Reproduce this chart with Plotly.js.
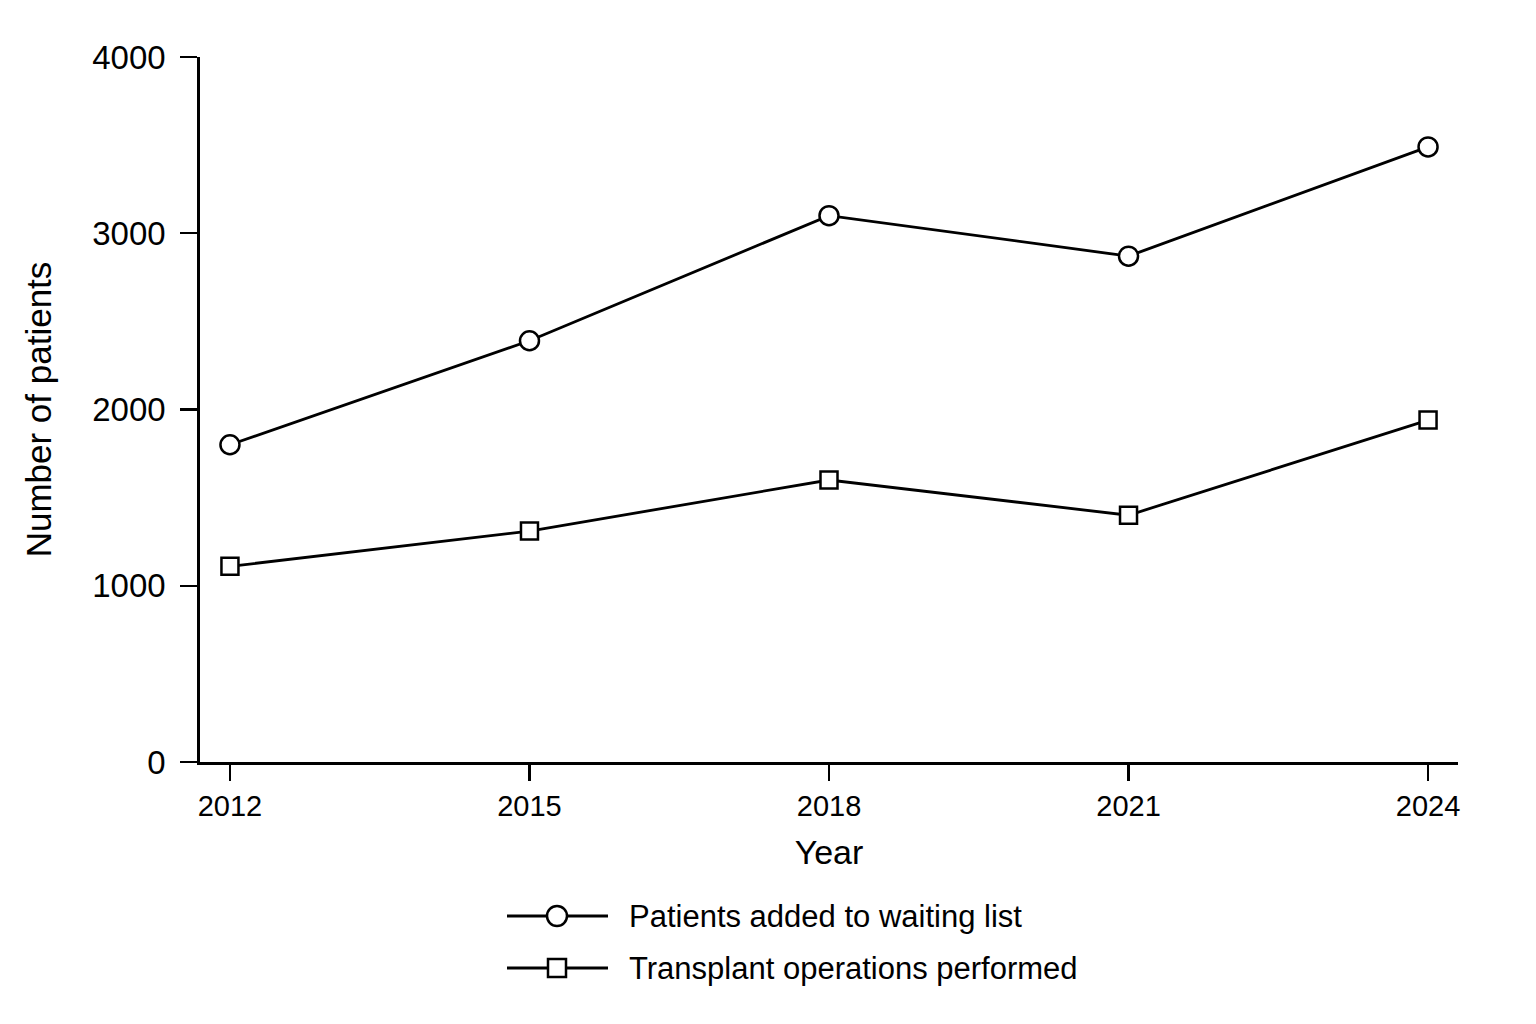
<!DOCTYPE html>
<html>
<head>
<meta charset="utf-8">
<script src="https://cdn.plot.ly/plotly-3.0.1.min.js"></script>
<style>
  html, body { margin: 0; padding: 0; background: #ffffff; }
  #chart { width: 1536px; height: 1024px; }
</style>
</head>
<body>
<div id="chart"></div>
<script>
// ---- Data ----
const years = [2012, 2015, 2018, 2021, 2024];
const waitingList = [1800, 2390, 3100, 2870, 3490];
const transplants = [1110, 1310, 1600, 1400, 1940];
const seriesNames = ["Patients added to waiting list", "Transplant operations performed"];
const yTicks = [0, 1000, 2000, 3000, 4000];
const xTitle = "Year";
const yTitle = "Number of patients";

// ---- Layout geometry ----
const W = 1536, H = 1024;
const M = { l: 200, r: 78, t: 57, b: 262 };
const plotW = W - M.l - M.r, plotH = H - M.t - M.b;
const px2paperX = px => (px - M.l) / plotW;
const px2paperY = py => (H - M.b - py) / plotH;

const FONT = '"Liberation Sans", Arial, Helvetica, sans-serif';

const traces = [
  {
    x: years, y: waitingList, name: seriesNames[0], type: 'scatter', mode: 'lines+markers',
    line: { color: '#000', width: 2.8 },
    marker: { symbol: 'circle', size: 19, color: '#fff', line: { color: '#000', width: 2.5 } },
    cliponaxis: false, showlegend: false
  },
  {
    x: years, y: transplants, name: seriesNames[1], type: 'scatter', mode: 'lines+markers',
    line: { color: '#000', width: 2.8 },
    marker: { symbol: 'square', size: 17, color: '#fff', line: { color: '#000', width: 2.5 } },
    cliponaxis: false, showlegend: false
  }
];

// custom legend (long line samples as in the reference)
const legendRows = [916, 968];
const shapes = [];
const annotations = [];
legendRows.forEach((py, i) => {
  const yp = px2paperY(py);
  shapes.push({
    type: 'line', xref: 'paper', yref: 'paper',
    x0: px2paperX(507), x1: px2paperX(608), y0: yp, y1: yp,
    line: { color: '#000', width: 2.8 }
  });
  const half = i === 0 ? 10 : 9;
  shapes.push({
    type: i === 0 ? 'circle' : 'rect', xref: 'paper', yref: 'paper',
    xsizemode: 'pixel', ysizemode: 'pixel',
    xanchor: px2paperX(557), yanchor: yp,
    x0: -half, x1: half, y0: -half, y1: half,
    fillcolor: '#fff', line: { color: '#000', width: 2.5 }
  });
  annotations.push({
    xref: 'paper', yref: 'paper', x: px2paperX(627), y: yp,
    xanchor: 'left', yanchor: 'middle', showarrow: false,
    text: seriesNames[i], font: { family: FONT, size: 31, color: '#000' }
  });
});

const layout = {
  width: W, height: H,
  margin: M,
  paper_bgcolor: '#fff', plot_bgcolor: '#fff',
  showlegend: false,
  font: { family: FONT, color: '#000' },
  xaxis: {
    range: [2011.7, 2024.3],
    tickvals: years, ticktext: years.map(String),
    showgrid: false, zeroline: false,
    showline: true, linecolor: '#000', linewidth: 2.8,
    ticks: 'outside', ticklen: 16, tickwidth: 2.4, tickcolor: '#000',
    tickfont: { family: FONT, size: 29, color: '#000' },
    ticklabelstandoff: 0,
    title: { text: xTitle, font: { family: FONT, size: 34, color: '#000' }, standoff: 20 }
  },
  yaxis: {
    range: [0, 4000],
    tickvals: yTicks, ticktext: yTicks.map(String),
    showgrid: false, zeroline: false,
    showline: true, linecolor: '#000', linewidth: 2.8,
    ticks: 'outside', ticklen: 17, tickwidth: 2.4, tickcolor: '#000',
    tickfont: { family: FONT, size: 33, color: '#000' },
    ticklabelstandoff: 8,
    title: { text: yTitle, font: { family: FONT, size: 35, color: '#000' }, standoff: 30 }
  },
  shapes: shapes,
  annotations: annotations
};

Plotly.newPlot('chart', traces, layout, { displayModeBar: false, staticPlot: true });
</script>
</body>
</html>
